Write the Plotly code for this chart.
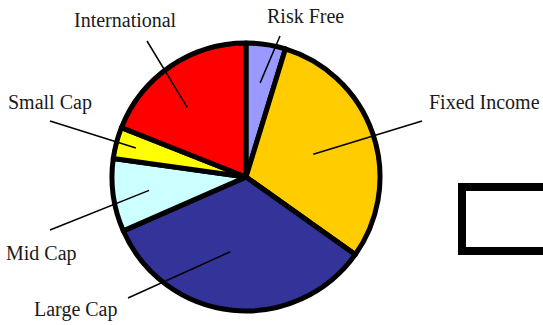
import math
import plotly.graph_objects as go

# ---- data ----
labels = ["Risk Free", "Fixed Income", "Large Cap", "Mid Cap", "Small Cap", "International"]
values = [4.75, 30.1, 33.6, 8.8, 3.8, 19.0]
colors = ["#9999FF", "#FFCC00", "#333399", "#CCFFFF", "#FFFF00", "#FF0000"]

# ---- layout / style (pixels) ----
W, H = 543, 325
CX, CY, R = 246, 177, 134
# label text centres
text_pos = {
    "Risk Free": (305, 16),
    "Fixed Income": (484, 102),
    "Large Cap": (76, 309),
    "Mid Cap": (41, 253),
    "Small Cap": (50, 102),
    "International": (125, 20),
}
# outer end of leader lines
line_outer = {
    "Risk Free": (280, 36),
    "Fixed Income": (422, 121),
    "Large Cap": (128, 298),
    "Mid Cap": (50, 230),
    "Small Cap": (50, 121),
    "International": (147, 41),
}
# inner end: fraction of radius, angle offset (deg) from slice middle
inner_style = {
    "Risk Free": (0.71, 0),
    "Fixed Income": (0.53, 0),
    "Large Cap": (0.57, 6),
    "Mid Cap": (0.73, 0),
    "Small Cap": (0.85, 0),
    "International": (0.68, -6),
}


def px(x):
    return x / W


def py(y):
    return 1 - y / H


fig = go.Figure()
fig.add_trace(go.Pie(
    labels=labels, values=values, sort=False, direction="clockwise", rotation=0,
    marker=dict(colors=colors, line=dict(color="black", width=5)),
    textinfo="none", hoverinfo="label+percent", showlegend=False,
    domain=dict(x=[px(CX - R), px(CX + R)], y=[py(CY + R), py(CY - R)]),
))

shapes = []
annotations = []
total = sum(values)
cum = 0.0
for lab, v in zip(labels, values):
    mid = (cum + v / 2) / total * 360
    cum += v
    frac, off = inner_style[lab]
    a = math.radians(mid + off)
    ix = CX + frac * R * math.sin(a)
    iy = CY - frac * R * math.cos(a)
    ox, oy = line_outer[lab]
    shapes.append(dict(type="line", xref="paper", yref="paper",
                       x0=px(ix), y0=py(iy), x1=px(ox), y1=py(oy),
                       line=dict(color="black", width=1.5)))
    tx, ty = text_pos[lab]
    annotations.append(dict(text=lab, xref="paper", yref="paper", x=px(tx), y=py(ty),
                            xanchor="center", yanchor="middle", showarrow=False,
                            font=dict(family="Liberation Serif", size=20, color="#1a1a1a")))

# clipped legend box at right
shapes.append(dict(type="rect", xref="paper", yref="paper",
                   x0=px(462), x1=px(600), y0=py(251), y1=py(187),
                   line=dict(color="black", width=8), fillcolor="rgba(0,0,0,0)"))

fig.update_layout(
    width=W, height=H, margin=dict(l=0, r=0, t=0, b=0),
    paper_bgcolor="white", plot_bgcolor="white",
    shapes=shapes, annotations=annotations,
)
fig.write_html("out.html")
